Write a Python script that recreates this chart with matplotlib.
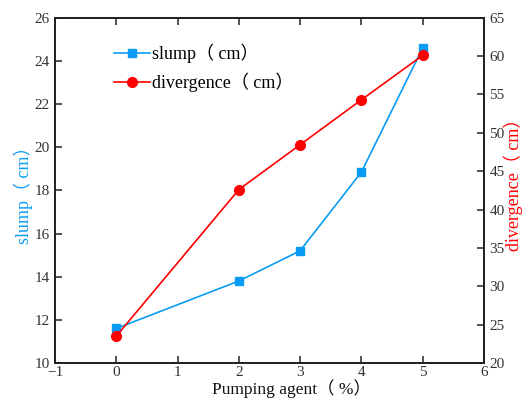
import matplotlib
matplotlib.use("Agg")
import matplotlib.pyplot as plt

x = [0, 2, 3, 4, 5]
slump = [11.6, 13.8, 15.2, 18.85, 24.6]
divergence = [23.5, 42.6, 48.45, 54.3, 60.1]

fam = ['Liberation Serif', 'Noto Sans CJK SC']
plt.rcParams['font.family'] = fam
blue = '#0A9CF5'
red = '#FF0000'

fig = plt.figure(figsize=(5.23, 3.98), dpi=100)
ax = fig.add_axes([55/523, 1-363/398, (484-55)/523, (363-17.7)/398])
ax2 = ax.twinx()

l1, = ax.plot(x, slump, '-s', color=blue, lw=1.2, ms=6, label='slump（ cm）')
l2, = ax2.plot(x, divergence, '-o', color=red, lw=1.2, ms=7, label='divergence（ cm）')

ax.set_xlim(-1, 6)
ax.set_ylim(10, 26)
ax2.set_ylim(20, 65)
ax.set_xticks(range(-1, 7))
ax.set_xticklabels(['−1'] + [str(i) for i in range(0, 7)])
ax.set_yticks(range(10, 27, 2))
ax2.set_yticks(range(20, 66, 5))

for a in (ax, ax2):
    for s in a.spines.values():
        s.set_linewidth(1.3)
        s.set_color('#222222')
ax.tick_params(axis='x', direction='in', top=True, length=5, width=1.2, labelsize=11, pad=2, colors='#333333', labelcolor='#333333')
ax.tick_params(axis='y', direction='in', length=5, width=1.2, labelsize=11, pad=4, colors='#333333', labelcolor='#333333')
ax2.tick_params(axis='y', direction='in', length=5, width=1.2, labelsize=11, pad=4, colors='#333333', labelcolor='#333333')

ax.set_xlabel('Pumping agent（ %）', fontsize=12.5, color='#111111')
ax.xaxis.set_label_coords(0.55, -0.047)
ax.set_ylabel('slump（ cm）', fontsize=13, color=blue, labelpad=1)
ax2.set_ylabel('divergence（ cm）', fontsize=13, color=red)
ax2.yaxis.set_label_coords(1.046, 0.53)

ax.legend(handles=[l1, l2], loc='upper left', bbox_to_anchor=(0.12, 0.945), frameon=False,
          fontsize=13, handlelength=2.0, handletextpad=0.1, labelspacing=0.5, borderaxespad=0)

fig.savefig('out.png', dpi=100)
